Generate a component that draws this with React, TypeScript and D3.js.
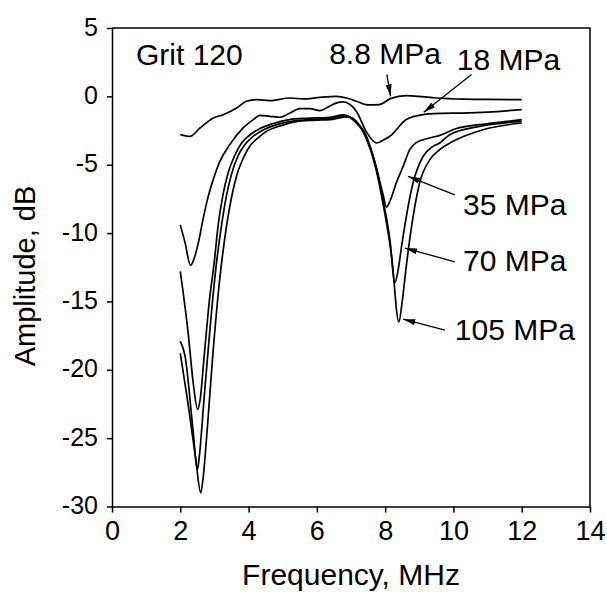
import React, { useEffect, useRef } from 'react';
import * as d3 from 'd3';

// x ticks / y ticks
const xTicks = [0, 2, 4, 6, 8, 10, 12, 14];
const yTicks = [5, 0, -5, -10, -15, -20, -25, -30];

// 8.8 MPa
const f88 = [2.0, 2.28, 2.58, 2.97, 3.26, 3.65, 3.94, 4.23, 4.62, 5.21, 5.6, 6.09, 6.58, 6.87, 7.16, 7.49, 7.83, 8.17, 8.62, 8.96, 9.5, 10.3, 11.0, 12.0];
const a88 = [-2.8, -2.93, -2.31, -1.58, -1.34, -0.85, -0.36, -0.24, -0.31, -0.12, -0.19, -0.07, 0, -0.12, -0.36, -0.63, -0.6, -0.15, 0.05, 0, -0.12, -0.2, -0.22, -0.24];

// 18 MPa
const f18 = [2.0, 2.14, 2.3, 2.4, 2.53, 2.65, 2.8, 2.95, 3.16, 3.45, 3.84, 4.14, 4.33, 4.62, 4.92, 5.21, 5.5, 5.79, 6.09, 6.28, 6.58, 6.77, 6.97, 7.16, 7.45, 7.75, 7.95, 8.14, 8.62, 9.11, 9.6, 10.28, 11.0, 12.0];
const a18 = [-9.4, -10.7, -12.36, -11.9, -10.7, -9.2, -7.5, -6.2, -4.75, -3.53, -2.31, -1.7, -1.39, -1.46, -1.53, -1.22, -0.9, -0.9, -1.05, -0.85, -0.48, -0.41, -0.6, -1.1, -2.6, -3.41, -3.2, -2.92, -1.7, -1.34, -1.25, -1.22, -1.15, -0.97];

// 35 MPa
const f35 = [2.0, 2.23, 2.38, 2.51, 2.58, 2.7, 2.85, 3.0, 3.11, 3.25, 3.4, 3.6, 3.8, 4.0, 4.3, 4.7, 5.2, 5.7, 6.3, 6.8, 7.1, 7.45, 7.75, 7.94, 8.04, 8.15, 8.33, 8.53, 8.72, 8.9, 9.3, 9.6, 10.09, 10.77, 11.5, 12.0];
const a35 = [-12.8, -17.3, -21, -22.9, -22.2, -19, -15, -12, -9.4, -7.2, -5.6, -4.3, -3.4, -2.9, -2.4, -2.0, -1.7, -1.6, -1.55, -1.35, -1.8, -2.9, -5.3, -7.2, -8.1, -7.6, -6.3, -5.1, -3.9, -3.4, -3.05, -2.85, -2.35, -2.07, -1.85, -1.7];

// 70 MPa
const f70 = [2.0, 2.14, 2.38, 2.5, 2.55, 2.7, 2.87, 3.05, 3.21, 3.35, 3.5, 3.7, 3.9, 4.1, 4.4, 4.85, 5.3, 5.8, 6.3, 6.85, 7.15, 7.45, 7.7, 7.94, 8.14, 8.28, 8.38, 8.48, 8.62, 8.82, 9.11, 9.4, 9.6, 9.89, 10.77, 12.0];
const a70 = [-17.9, -19, -24.6, -27.3, -26.5, -22, -17, -12.4, -9.4, -7.3, -5.7, -4.3, -3.5, -3.0, -2.5, -2.05, -1.8, -1.7, -1.65, -1.45, -1.9, -3.0, -4.8, -7.6, -10.5, -13.65, -12.7, -11, -8.8, -6.3, -4.4, -3.66, -3.41, -2.8, -2.19, -1.83];

// 105 MPa
const f105 = [2.0, 2.28, 2.45, 2.6, 2.65, 2.8, 2.95, 3.15, 3.36, 3.5, 3.65, 3.85, 4.05, 4.25, 4.5, 5.0, 5.4, 5.9, 6.4, 6.9, 7.2, 7.45, 7.7, 7.95, 8.19, 8.4, 8.5, 8.62, 8.82, 9.01, 9.31, 9.6, 9.99, 10.87, 12.0];
const a105 = [-18.8, -23.4, -26.5, -29.0, -28.3, -24, -19, -13.5, -9.4, -7.4, -5.8, -4.5, -3.6, -3.1, -2.6, -2.1, -1.85, -1.75, -1.7, -1.5, -1.95, -3.1, -5.0, -8.0, -11.7, -16.5, -15, -12.4, -8.78, -6.34, -4.63, -3.9, -3.29, -2.44, -1.95];

const series = [
  { f: f88, a: a88 },
  { f: f18, a: a18 },
  { f: f35, a: a35 },
  { f: f70, a: a70 },
  { f: f105, a: a105 },
];

// annotations: label, text pos (data), arrow from / to (data)
const labels = ['8.8 MPa', '18 MPa', '35 MPa', '70 MPa', '105 MPa'];
const labelPos = [[6.36, 2.4], [10.1, 1.95], [10.28, -8.65], [10.28, -12.8], [10.04, -17.8]];
const arrowFrom = [[8.05, 1.6], [10.53, 1.6], [10.04, -7.2], [10.04, -12.1], [9.75, -17.1]];
const arrowTo = [[8.16, 0.0], [9.13, -1.17], [8.67, -5.85], [8.58, -11.1], [8.53, -16.3]];

const FONT = 'Arial, "Liberation Sans", Helvetica, sans-serif';

const App = () => {
  const svgRef = useRef<SVGSVGElement>(null);

  useEffect(() => {
    if (!svgRef.current) return;
    const svg = d3.select(svgRef.current);
    svg.selectAll('*').remove();

    const x = d3.scaleLinear().domain([0, 14]).range([112, 590]);
    const y = d3.scaleLinear().domain([-30, 5]).range([506.5, 28]);

    svg.append('defs').append('marker')
      .attr('id', 'arr')
      .attr('viewBox', '0 0 12 6')
      .attr('refX', 12)
      .attr('refY', 3)
      .attr('markerWidth', 12)
      .attr('markerHeight', 6)
      .attr('markerUnits', 'userSpaceOnUse')
      .attr('orient', 'auto')
      .append('path')
      .attr('d', 'M0,0 L12,3 L0,6 Z')
      .attr('fill', '#000');

    // frame (top + right)
    svg.append('path')
      .attr('d', `M${x(0)},${y(5)} H${x(14)} V${y(-30)}`)
      .attr('fill', 'none')
      .attr('stroke', '#000')
      .attr('stroke-width', 1.5);

    // x axis
    const gx = svg.append('g')
      .attr('transform', `translate(0,${y(-30)})`)
      .call(d3.axisBottom(x).tickValues(xTicks).tickSizeInner(6).tickSizeOuter(0).tickFormat(d => String(d)));
    gx.select('.domain').attr('stroke-width', 1.5);
    gx.selectAll('line').attr('stroke-width', 1.5);
    gx.selectAll('text')
      .attr('font-family', FONT)
      .attr('font-size', 27)
      .attr('fill', '#000')
      .attr('dy', null)
      .attr('y', 33);

    // y axis
    const gy = svg.append('g')
      .attr('transform', `translate(${x(0)},0)`)
      .call(d3.axisLeft(y).tickValues(yTicks).tickSizeInner(5).tickSizeOuter(0).tickFormat(d => String(d)));
    gy.select('.domain').attr('stroke-width', 1.5);
    gy.selectAll('line').attr('stroke-width', 1.5);
    gy.selectAll('text')
      .attr('font-family', FONT)
      .attr('font-size', 25)
      .attr('fill', '#000')
      .attr('dy', null)
      .attr('y', 7)
      .attr('x', -14);

    // curves
    const line = d3.line<[number, number]>()
      .x(d => x(d[0]))
      .y(d => y(d[1]))
      .curve(d3.curveMonotoneX);

    series.forEach(s => {
      const pts = s.f.map((f, i) => [f, s.a[i]] as [number, number]);
      svg.append('path')
        .attr('d', line(pts))
        .attr('fill', 'none')
        .attr('stroke', '#000')
        .attr('stroke-width', 1.7)
        .attr('stroke-linejoin', 'round');
    });

    // arrows
    labels.forEach((lab, i) => {
      svg.append('line')
        .attr('x1', x(arrowFrom[i][0]))
        .attr('y1', y(arrowFrom[i][1]))
        .attr('x2', x(arrowTo[i][0]))
        .attr('y2', y(arrowTo[i][1]))
        .attr('stroke', '#000')
        .attr('stroke-width', 1.3)
        .attr('marker-end', 'url(#arr)');
      svg.append('text')
        .attr('x', x(labelPos[i][0]))
        .attr('y', y(labelPos[i][1]))
        .attr('font-family', FONT)
        .attr('font-size', 30)
        .attr('fill', '#000')
        .text(lab);
    });

    svg.append('text')
      .attr('x', 136)
      .attr('y', 65)
      .attr('font-family', FONT)
      .attr('font-size', 30)
      .text('Grit 120');

    // axis titles
    svg.append('text')
      .attr('x', (x(0) + x(14)) / 2)
      .attr('y', 585)
      .attr('text-anchor', 'middle')
      .attr('font-family', FONT)
      .attr('font-size', 30)
      .text('Frequency, MHz');

    svg.append('text')
      .attr('transform', 'translate(35,276) rotate(-90)')
      .attr('text-anchor', 'middle')
      .attr('font-family', FONT)
      .attr('font-size', 29)
      .text('Amplitude, dB');
  }, []);

  return (
    <svg ref={svgRef} width={607} height={592}
      style={{ position: 'absolute', left: 0, top: 0, background: '#fff' }} />
  );
};

export default App;
